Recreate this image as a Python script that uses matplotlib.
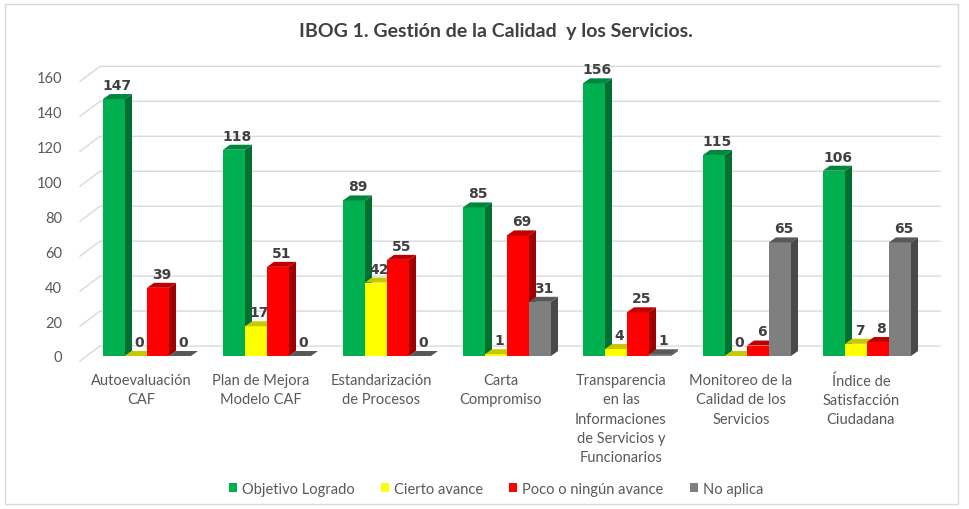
import numpy as np
import matplotlib.pyplot as plt
from matplotlib.patches import Polygon, Rectangle, Patch
from matplotlib.transforms import ScaledTranslation

# data
categories = ["Autoevaluación\nCAF", "Plan de Mejora\nModelo CAF", "Estandarización\nde Procesos",
              "Carta\nCompromiso",
              "Transparencia\nen las\nInformaciones\nde Servicios y\nFuncionarios",
              "Monitoreo de la\nCalidad de los\nServicios", "Índice de\nSatisfacción\nCiudadana"]
series_names = ["Objetivo Logrado", "Cierto avance", "Poco o ningún avance", "No aplica"]
logrado = [147, 118, 89, 85, 156, 115, 106]
cierto = [0, 17, 42, 1, 4, 0, 7]
poco = [39, 51, 55, 69, 25, 6, 8]
no_aplica = [0, 0, 0, 31, 1, 65, 65]
series = [logrado, cierto, poco, no_aplica]

# front, top, side colours
colors = [("#00B050", "#00873D", "#006F30"),
          ("#FFFF00", "#C8C800", "#B0B000"),
          ("#FF0000", "#C00000", "#A00000"),
          ("#7F7F7F", "#595959", "#4A4A4A")]

FONT = ["Lato", "DejaVu Sans"]
W, H = 969, 510
fig = plt.figure(figsize=(W / 100, H / 100), dpi=100)

# pixel based layout: 120 px per category, 1.748 px per unit
PXC = 120.0
PXV = 1.748
ax = fig.add_axes([70 / W, (H - 365) / H, 875 / W, 305 / H])
ax.set_xlim((70 - 147) / PXC, (945 - 147) / PXC)
ax.set_ylim(-(365 - 357) / PXV, (357 - 60) / PXV)
for s in ax.spines.values():
    s.set_visible(False)

dx = 7 / PXC
dy = 5 / PXV
w = 22 / PXC
x = np.arange(len(categories))

# back wall gridlines with the slanted floor part
yt = np.arange(0, 161, 20)
for v in yt:
    ax.plot([(80 - 147) / PXC, (100 - 147) / PXC, (940 - 147) / PXC],
            [v - 2.9, v + 5.7, v + 5.7], color="#D9D9D9", lw=1, zorder=0, clip_on=False)

for s, vals in enumerate(series):
    front, top, side = colors[s]
    left = x + (s - 2) * w
    ax.bar(left, vals, width=w, align="edge", color=front, edgecolor="none", zorder=2 + s)
    for L, v in zip(left, vals):
        R = L + w
        ax.add_patch(Polygon([(R, 0), (R + dx, dy), (R + dx, v + dy), (R, v)],
                             closed=True, facecolor=side, edgecolor="none", zorder=2 + s))
        ax.add_patch(Polygon([(L, v), (L + dx, v + dy), (R + dx, v + dy), (R, v)],
                             closed=True, facecolor=top, edgecolor="none", zorder=2 + s))
        ax.annotate(str(v), (L + w / 2 + dx / 2, v + dy), xytext=(0, 1.5),
                    textcoords="offset points", ha="center", va="bottom",
                    fontsize=10, fontweight="bold", color="#404040",
                    family="DejaVu Sans", zorder=10)

ax.set_yticks(yt)
ax.set_yticklabels([str(v) for v in yt], family=FONT, fontsize=10.5, color="#595959")
off = ScaledTranslation(0, -5 / 100, fig.dpi_scale_trans)
for lab in ax.get_yticklabels():
    lab.set_transform(lab.get_transform() + off)
ax.set_xticks(x - 6 / PXC)
ax.set_xticklabels(categories, family=FONT, fontsize=10.5, color="#595959", linespacing=1.48)
ax.tick_params(axis="both", length=0)
ax.tick_params(axis="y", pad=5.8)
ax.tick_params(axis="x", pad=6.5)

fig.text(496 / W, 1 - 32 / H, "IBOG 1. Gestión de la Calidad  y los Servicios.",
         ha="center", va="center", fontsize=14, fontweight="bold", color="#404040",
         family=FONT)

handles = [Patch(facecolor=c[0], edgecolor="none") for c in colors]
fig.legend(handles, series_names, loc="center", bbox_to_anchor=(496 / W, 20 / H), ncol=4,
           frameon=False, handlelength=0.55, handleheight=0.55, handletextpad=0.35,
           columnspacing=1.8, prop={"family": FONT, "size": 10.5},
           labelcolor="#595959")

fig.add_artist(Rectangle((5 / W, 5 / H), 953 / W, 500 / H, transform=fig.transFigure,
                         fill=False, edgecolor="#D9D9D9", lw=1))

fig.savefig("out.png", dpi=100)
